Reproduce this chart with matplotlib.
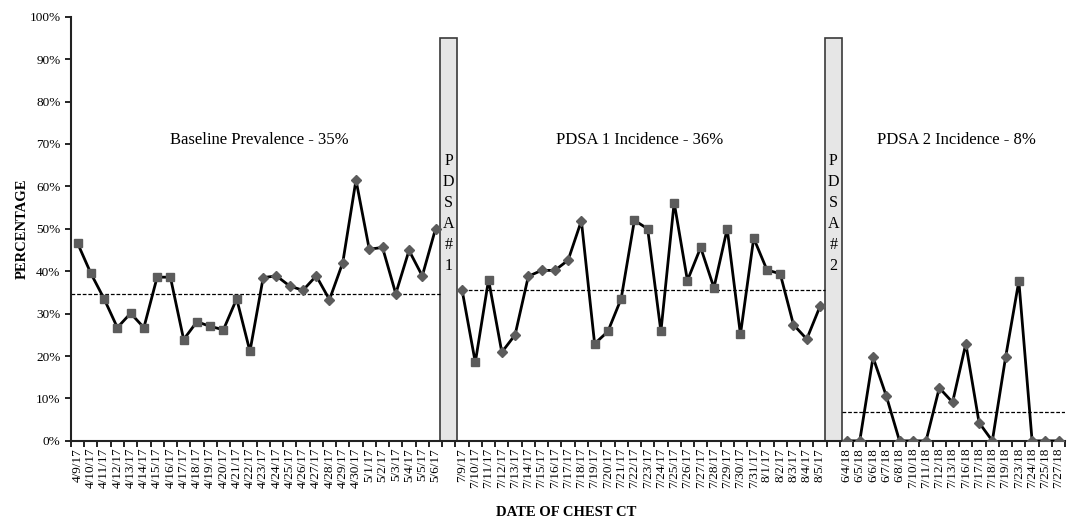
import numpy as np
import matplotlib
matplotlib.use('Agg')
import matplotlib.pyplot as plt

plt.rcParams['font.family'] = ['Liberation Serif', 'DejaVu Serif']

# baseline period
base_dates = ['4/9/17', '4/10/17', '4/11/17', '4/12/17', '4/13/17', '4/14/17', '4/15/17',
              '4/16/17', '4/17/17', '4/18/17', '4/19/17', '4/20/17', '4/21/17', '4/22/17',
              '4/23/17', '4/24/17', '4/25/17', '4/26/17', '4/27/17', '4/28/17', '4/29/17',
              '4/30/17', '5/1/17', '5/2/17', '5/3/17', '5/4/17', '5/5/17', '5/6/17']
base_vals = [46.6, 39.5, 33.5, 26.7, 30.1, 26.7, 38.6, 38.6, 23.9, 28.1, 27.0, 26.2, 33.5, 21.1,
             38.5, 38.9, 36.5, 35.5, 38.9, 33.3, 42.0, 61.5, 45.2, 45.6, 34.7, 44.9, 38.9, 50.0]
base_grp = [1] * 14 + [0] * 14
base_mean = 34.7

# PDSA 1
p1_dates = ['7/9/17', '7/10/17', '7/11/17', '7/12/17', '7/13/17', '7/14/17', '7/15/17',
            '7/16/17', '7/17/17', '7/18/17', '7/19/17', '7/20/17', '7/21/17', '7/22/17',
            '7/23/17', '7/24/17', '7/25/17', '7/26/17', '7/27/17', '7/28/17', '7/29/17',
            '7/30/17', '7/31/17', '8/1/17', '8/2/17', '8/3/17', '8/4/17', '8/5/17']
p1_vals = [35.6, 18.5, 38.0, 20.9, 25.0, 38.8, 40.2, 40.2, 42.6, 51.9, 22.9, 25.8, 33.5, 52.0,
           50.0, 25.8, 56.2, 37.8, 45.6, 36.1, 50.0, 25.1, 47.8, 40.3, 39.4, 27.4, 24.0, 31.7]
p1_grp = [0, 1, 1, 0, 0, 0, 0, 0, 0, 0] + [1] * 15 + [0, 0, 0]
p1_mean = 35.5

# PDSA 2
p2_dates = ['6/4/18', '6/5/18', '6/6/18', '6/7/18', '6/8/18', '7/10/18', '7/11/18', '7/12/18',
            '7/13/18', '7/16/18', '7/17/18', '7/18/18', '7/19/18', '7/23/18', '7/24/18',
            '7/25/18', '7/27/18']
p2_vals = [0, 0, 19.7, 10.6, 0, 0, 0, 12.5, 9.1, 22.9, 4.3, 0, 19.7, 37.7, 0, 0, 0]
p2_grp = [0] * 13 + [1] + [0] * 3
p2_mean = 6.9

section_text = ['Baseline Prevalence - 35%', 'PDSA 1 Incidence - 36%', 'PDSA 2 Incidence - 8%']
bar_labels = ['PDSA#1', 'PDSA#2']
bar_height = 95

fig = plt.figure(figsize=(10.72, 5.23), dpi=100)
ax = fig.add_axes([0.0662, 0.157, 0.9275, 0.811])

sections = [(base_dates, base_vals, base_grp, base_mean),
            (p1_dates, p1_vals, p1_grp, p1_mean),
            (p2_dates, p2_vals, p2_grp, p2_mean)]

bw = 1.3
labels = []
start = 0
bar_pos = []
text_pos = [13.7, 42.4, 66.3]
for k, (d, v, g, m) in enumerate(sections):
    x = np.arange(start, start + len(d))
    v = np.array(v)
    g = np.array(g)
    ax.plot(x, v, color='black', lw=2, zorder=3)
    ax.plot(x[g == 1], v[g == 1], ls='none', marker='s', ms=5.5, color='#5c5c5c', zorder=4)
    ax.plot(x[g == 0], v[g == 0], ls='none', marker='D', ms=5, color='#5c5c5c', zorder=4)
    lo = start - 0.5 if k == 0 else start - 1 + bw / 2
    hi = start + len(d) - bw / 2 if k < 2 else start + len(d) - 0.5
    ax.plot([lo, hi], [m, m], color='black', lw=0.9, ls=(0, (3, 1.5)), zorder=2)
    ax.text(text_pos[k], 71, section_text[k], ha='center', va='center', fontsize=12)
    labels += d
    start += len(d)
    if k < 2:
        bar_pos.append(start)
        labels.append('')
        start += 1

for bp, name in zip(bar_pos, bar_labels):
    ax.bar(bp, bar_height, width=bw, color='#e6e6e6', edgecolor='#3a3a3a', lw=1.2, zorder=1)
    for j, ch in enumerate(name):
        ax.text(bp, 66 - 4.95 * j, ch, ha='center', va='center', fontsize=11.5)

n = len(labels)
ax.set_xlim(-0.5, n - 0.5)
ax.set_ylim(0, 100)
ax.set_xticks(np.arange(n))
ax.set_xticklabels(labels, rotation=90, fontsize=9.5)
ax.set_xticks(np.arange(n + 1) - 0.5, minor=True)
ax.tick_params(axis='x', which='major', length=0, pad=5)
ax.tick_params(axis='x', which='minor', length=4, width=1.2, direction='out')
ax.set_yticks(np.arange(0, 101, 10))
ax.set_yticklabels(['%d%%' % t for t in range(0, 101, 10)], fontsize=9.5)
ax.tick_params(axis='y', length=4, width=1.2, direction='out')

for s in ['top', 'right']:
    ax.spines[s].set_visible(False)
for s in ['left', 'bottom']:
    ax.spines[s].set_linewidth(1.5)
    ax.spines[s].set_color('#222222')

fig.text(0.021, 0.562, 'PERCENTAGE', rotation=90, ha='center', va='center',
         fontsize=10.5, fontweight='bold')
fig.text(0.528, 0.02, 'DATE OF CHEST CT', ha='center', va='center',
         fontsize=10.5, fontweight='bold')

fig.savefig('out.png', dpi=100)
